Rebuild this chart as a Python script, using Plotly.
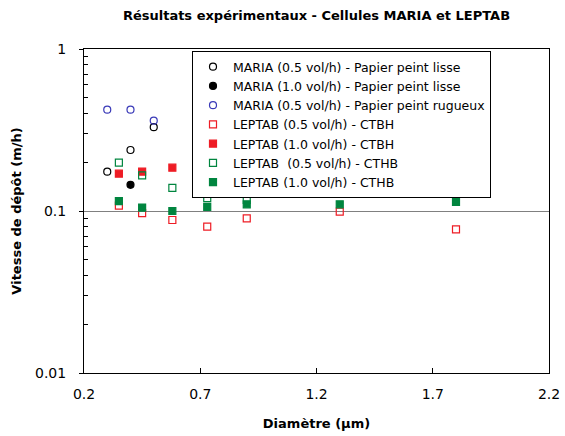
import plotly.graph_objects as go

# ---- data ----
maria_05_lisse_x = [0.3, 0.4, 0.5]
maria_05_lisse_y = [0.175, 0.238, 0.329]

maria_10_lisse_x = [0.4]
maria_10_lisse_y = [0.145]

maria_05_rug_x = [0.3, 0.4, 0.5]
maria_05_rug_y = [0.422, 0.422, 0.361]

leptab_05_ctbh_x = [0.35, 0.45, 0.58, 0.73, 0.9, 1.3, 1.8]
leptab_05_ctbh_y = [0.108, 0.097, 0.088, 0.080, 0.090, 0.099, 0.077]

leptab_10_ctbh_x = [0.35, 0.45, 0.58, 0.73]
leptab_10_ctbh_y = [0.170, 0.175, 0.185, 0.184]

leptab_05_cthb_x = [0.35, 0.45, 0.58, 0.73, 0.9]
leptab_05_cthb_y = [0.199, 0.166, 0.139, 0.120, 0.117]

leptab_10_cthb_x = [0.35, 0.45, 0.58, 0.73, 0.9, 1.3, 1.8]
leptab_10_cthb_y = [0.115, 0.105, 0.100, 0.106, 0.110, 0.110, 0.114]

x_ticks = [0.2, 0.7, 1.2, 1.7, 2.2]
x_ticktext = ["0.2", "0.7", "1.2", "1.7", "2.2"]
y_ticks = [0.01, 0.1, 1]
y_ticktext = ["0.01", "0.1", "1"]

FONT = "'DejaVu Sans', Arial, sans-serif"
RED = "#ee1c25"
GREEN = "#00853f"
BLUE = "#3a3ab8"

series = [
    ("MARIA (0.5 vol/h) - Papier peint lisse", maria_05_lisse_x, maria_05_lisse_y, "circle-open", "black"),
    ("MARIA (1.0 vol/h) - Papier peint lisse", maria_10_lisse_x, maria_10_lisse_y, "circle", "black"),
    ("MARIA (0.5 vol/h) - Papier peint rugueux", maria_05_rug_x, maria_05_rug_y, "circle-open", BLUE),
    ("LEPTAB (0.5 vol/h) - CTBH", leptab_05_ctbh_x, leptab_05_ctbh_y, "square-open", RED),
    ("LEPTAB (1.0 vol/h) - CTBH", leptab_10_ctbh_x, leptab_10_ctbh_y, "square", RED),
    ("LEPTAB\u00a0 (0.5 vol/h) - CTHB", leptab_05_cthb_x, leptab_05_cthb_y, "square-open", GREEN),
    ("LEPTAB (1.0 vol/h) - CTHB", leptab_10_cthb_x, leptab_10_cthb_y, "square", GREEN),
]

fig = go.Figure()
for name, xs, ys, sym, col in series:
    fig.add_trace(go.Scatter(
        x=xs, y=ys, mode="markers", name=name,
        marker=dict(symbol=sym, size=7, color=col, line=dict(color=col, width=1.2)),
    ))

L, R, T, B = 84, 549, 49, 373
W, H = 565, 436

fig.update_layout(
    width=W, height=H,
    margin=dict(l=L, r=W - R, t=T, b=H - B, pad=0),
    paper_bgcolor="white", plot_bgcolor="white",
    font=dict(family=FONT, size=13, color="black"),
    title=dict(text="<b>Résultats expérimentaux - Cellules MARIA et LEPTAB</b>",
               font=dict(family=FONT, size=13, color="black"),
               x=(L + R) / 2 / W, xanchor="center",
               y=1 - 15 / H, yanchor="middle", yref="container"),
    showlegend=True,
    legend=dict(x=(192 - L) / (R - L), y=(B - 51) / (B - T), xanchor="left", yanchor="top",
                bgcolor="white", bordercolor="black", borderwidth=1,
                font=dict(family=FONT, size=12.5), tracegroupgap=0,
                itemsizing="trace"),
)

fig.update_xaxes(
    range=[0.2, 2.2], tickvals=x_ticks, ticktext=x_ticktext,
    showline=True, linecolor="black", linewidth=1, mirror=True,
    ticks="inside", ticklen=5, tickcolor="black",
    showgrid=False, zeroline=False, automargin=False,
    ticklabelstandoff=8,
    tickfont=dict(family=FONT, size=14),
    title=dict(text="<b>Diamètre (µm)</b>", font=dict(family=FONT, size=13), standoff=18),
)

fig.update_yaxes(
    type="log", range=[-2, 0], tickvals=y_ticks, ticktext=y_ticktext,
    showline=True, linecolor="black", linewidth=1, mirror=True,
    ticks="outside", ticklen=4, tickcolor="black",
    showgrid=True, gridcolor="#808080", gridwidth=1.3,
    zeroline=False, automargin=False,
    ticklabelstandoff=10,
    tickfont=dict(family=FONT, size=14),
    minor=dict(ticks="inside", ticklen=4, tickcolor="black", showgrid=False,
               tickvals=[v * d for d in (0.01, 0.1) for v in range(2, 10)]),
    title=dict(text="<b>Vitesse de dépôt (m/h)</b>", font=dict(family=FONT, size=13), standoff=10),
)

fig.write_html("out.html", config={"displayModeBar": False},
               post_script="document.body.style.margin='0';document.body.style.padding='0';")
